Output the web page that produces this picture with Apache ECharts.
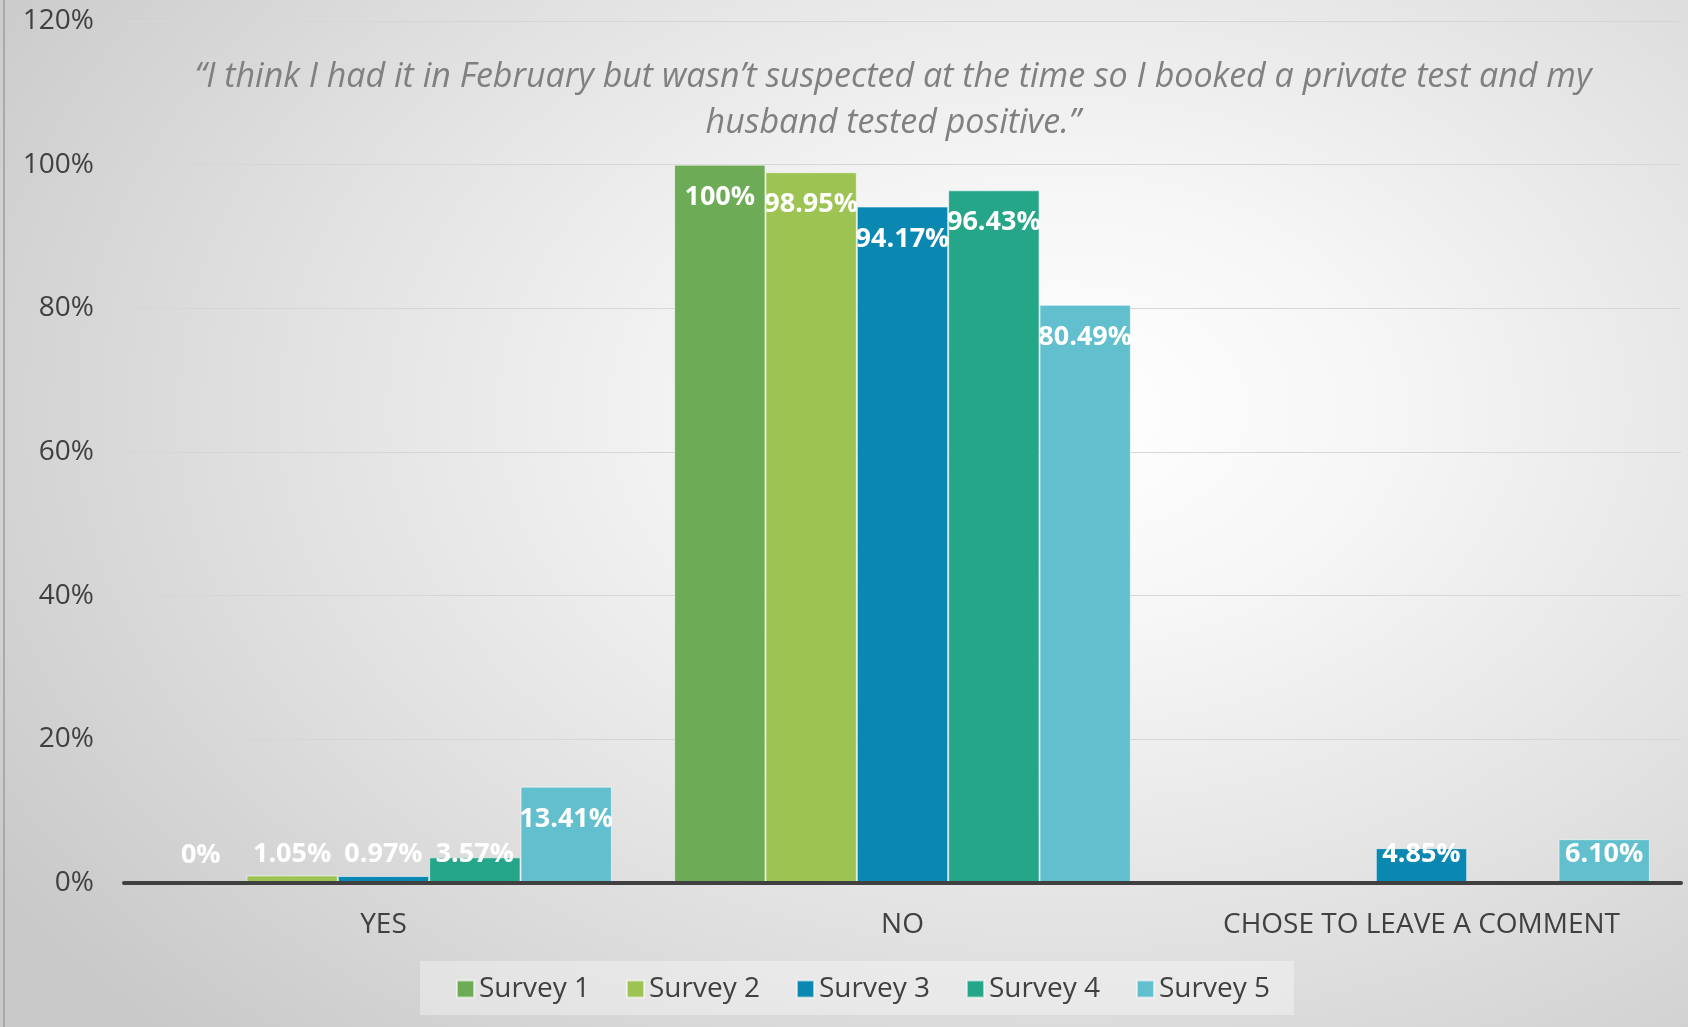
<!DOCTYPE html>
<html>
<head>
<meta charset="utf-8">
<script src="https://cdn.jsdelivr.net/npm/echarts@6/dist/echarts.min.js"></script>
<style>
  html, body { margin: 0; padding: 0; }
  #chart {
    width: 1688px; height: 1027px; position: relative;
    background: radial-gradient(ellipse 75% 85% at 63% 40%, #ffffff 0%, #f6f6f6 25%, #e2e2e2 60%, #c9c9c9 100%);
  }
  #edge { position: absolute; left: 3px; top: 0; width: 2px; height: 1027px; background: #a9a9a9; z-index: 5; }
</style>
</head>
<body>
<div id="chart"></div>
<div id="edge"></div>
<script>
// categories and values (percent)
const categories = ["YES", "NO", "CHOSE TO LEAVE A COMMENT"];
const seriesNames = ["Survey 1", "Survey 2", "Survey 3", "Survey 4", "Survey 5"];
const survey1 = [0, 100, null];
const survey2 = [1.05, 98.95, null];
const survey3 = [0.97, 94.17, 4.85];
const survey4 = [3.57, 96.43, null];
const survey5 = [13.41, 80.49, 6.10];
const yTicks = [0, 20, 40, 60, 80, 100, 120];

const colors = ["#6dab57", "#9dc453", "#0b88b1", "#26a688", "#62bfcd"];
const quote = "\u201cI think I had it in February but wasn\u2019t suspected at the time so I booked a private test and my\nhusband tested positive.\u201d";

const fmt = (v) => (Number.isInteger(v) ? v : v.toFixed(2)) + "%";

// Excel-style "inside end": short bars get the label pushed up from the axis
const buildData = (vals) => vals.map((v) => {
  if (v == null) return null;
  const small = v < 8.5;
  return {
    value: v,
    label: {
      position: small ? "insideBottom" : "insideTop",
      distance: small ? 15 : 19
    }
  };
});

const chart = echarts.init(document.getElementById("chart"));

const allData = [survey1, survey2, survey3, survey4, survey5];

const option = {
  backgroundColor: "transparent",
  color: colors,
  textStyle: { fontFamily: "Open Sans" },
  graphic: [{
    type: "text",
    x: 893,
    y: 54,
    style: {
      text: quote,
      fill: "#808080",
      font: "italic 34px 'Open Sans'",
      textAlign: "center",
      textVerticalAlign: "top",
      lineHeight: 46
    }
  }],
  grid: { left: 124, right: 7, top: 21, bottom: 144 },
  legend: {
    data: seriesNames,
    left: 420,
    top: 961,
    padding: [14, 24, 12, 36],
    backgroundColor: "rgba(255,255,255,0.35)",
    icon: "rect",
    itemWidth: 17,
    itemHeight: 17,
    itemGap: 36,
    selectedMode: false,
    textStyle: { fontSize: 28, color: "#404040", fontFamily: "Open Sans" }
  },
  xAxis: {
    type: "category",
    data: categories,
    z: 3,
    axisLine: { lineStyle: { color: "#404040", width: 4 } },
    axisTick: { show: false },
    axisLabel: { fontSize: 28, color: "#404040", margin: 28 }
  },
  yAxis: {
    type: "value",
    min: 0,
    max: 120,
    interval: 20,
    axisLine: { show: false },
    axisTick: { show: false },
    axisLabel: { formatter: "{value}%", fontSize: 28, color: "#404040", margin: 30 },
    splitLine: { lineStyle: { color: "#d6d6d6", width: 1 } }
  },
  series: seriesNames.map((name, i) => ({
    name,
    type: "bar",
    data: buildData(allData[i]),
    barGap: "0%",
    barCategoryGap: "12%",
    itemStyle: { color: colors[i], borderColor: "rgba(255,255,255,0.55)", borderWidth: 1 },
    label: {
      show: true,
      color: "#ffffff",
      fontSize: 27,
      fontWeight: "bold",
      fontFamily: "Open Sans",
      formatter: (p) => fmt(p.value)
    }
  }))
};

chart.setOption(option);
</script>
</body>
</html>
